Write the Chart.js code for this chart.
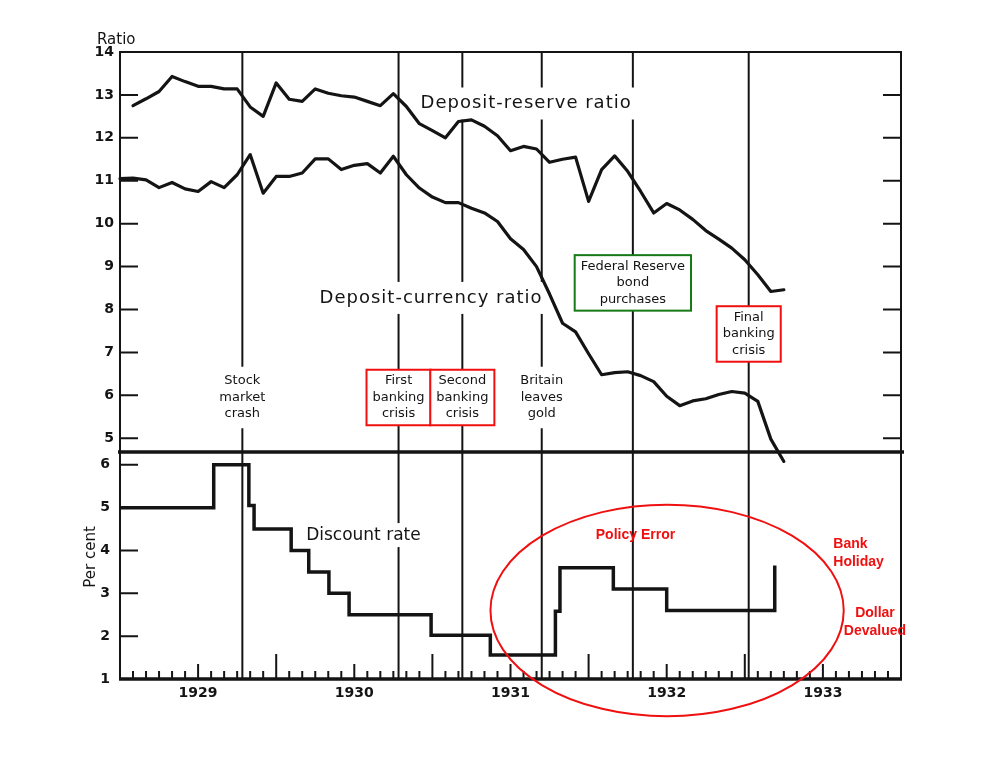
<!DOCTYPE html>
<html>
<head>
<meta charset="utf-8">
<title>Deposit ratios and discount rate, 1929-33</title>
<script src="https://cdn.jsdelivr.net/npm/chart.js@4.4.1/dist/chart.umd.min.js"></script>
<style>
  html, body { margin: 0; padding: 0; background: #fff; }
  canvas { display: block; }
</style>
</head>
<body>
<canvas id="chart" width="991" height="764"></canvas>
<script>
// months counted from Jan 1929 = 0
const monthIndex = [0, 1, 2, 3, 4, 5, 6, 7, 8, 9, 10, 11, 12, 13, 14, 15, 16, 17, 18, 19, 20,
  21, 22, 23, 24, 25, 26, 27, 28, 29, 30, 31, 32, 33, 34, 35, 36, 37, 38, 39, 40,
  41, 42, 43, 44, 45, 46, 47, 48, 49, 50, 51];

const depositReserve = [null, 12.75, 12.91, 13.08, 13.43, 13.31, 13.2, 13.2, 13.14, 13.14, 12.72,
  12.5, 13.28, 12.9, 12.85, 13.14, 13.04, 12.98, 12.95, 12.85, 12.75,
  13.03, 12.73, 12.33, 12.17, 12.0, 12.38, 12.42, 12.27, 12.05, 11.7,
  11.8, 11.74, 11.43, 11.5, 11.55, 10.52, 11.26, 11.58, 11.22, 10.75,
  10.25, 10.47, 10.32, 10.1, 9.84, 9.64, 9.43, 9.16, 8.81, 8.42, 8.46];

const depositCurrency = [11.05, 11.06, 11.02, 10.84, 10.96, 10.81, 10.75, 10.98, 10.84, 11.14, 11.61,
  10.71, 11.1, 11.1, 11.18, 11.51, 11.51, 11.26, 11.36, 11.4, 11.18,
  11.57, 11.14, 10.83, 10.62, 10.49, 10.49, 10.36, 10.25, 10.05, 9.65,
  9.4, 9.0, 8.36, 7.68, 7.48, 6.97, 6.48, 6.53, 6.55, 6.46,
  6.32, 5.98, 5.76, 5.87, 5.92, 6.02, 6.09, 6.05, 5.86, 4.98, 4.46];

// discount rate: month where each level begins, and the level
const rateMonths = [0, 7.2, 9.9, 10.3, 13.15, 14.5, 16.05, 17.6, 23.9, 28.45, 33.45, 33.8, 37.9, 42.0, 50.3];
const rateValues = [5, 6, 5.05, 4.5, 4, 3.5, 3, 2.5, 2.02, 1.56, 2.58, 3.6, 3.1, 2.6, 3.65];

const yearMonths = [6, 18, 30, 42, 54];
const yearLabels = ['1929', '1930', '1931', '1932', '1933'];
const ratioTicks = [5, 6, 7, 8, 9, 10, 11, 12, 13, 14];
const rateTicks = [1, 2, 3, 4, 5, 6];

const eventMonths = [9.4, 21.4, 26.3, 32.4, 39.4, 48.3];
const eventLabels = [
  ['Stock', 'market', 'crash'],
  ['First', 'banking', 'crisis'],
  ['Second', 'banking', 'crisis'],
  ['Britain', 'leaves', 'gold'],
  ['Federal Reserve', 'bond', 'purchases'],
  ['Final', 'banking', 'crisis']
];

const ink = '#141414';
const red = '#f01010';
const green = '#167a16';
const font = '"DejaVu Sans", sans-serif';

// where the annotation texts sit, in axis units
const eventLabelRatio = [5.95, 5.95, 5.95, 5.95, 8.62, 7.43];
const eventBox = [null, red, red, null, green, red];

function drawLabel(ctx, lines, cx, cy, size, lineH, boxColor, padX, padY) {
  ctx.font = size + 'px ' + font;
  const w = Math.max(...lines.map(t => ctx.measureText(t).width));
  const h = lines.length * lineH;
  const x0 = cx - w / 2 - padX, y0 = cy - h / 2 - padY;
  ctx.fillStyle = '#fff';
  ctx.fillRect(x0, y0, w + padX * 2, h + padY * 2);
  if (boxColor) {
    ctx.strokeStyle = boxColor;
    ctx.lineWidth = 2;
    ctx.strokeRect(x0, y0, w + padX * 2, h + padY * 2);
  }
  ctx.fillStyle = ink;
  ctx.textAlign = 'center';
  ctx.textBaseline = 'middle';
  lines.forEach((t, i) => ctx.fillText(t, cx, cy - h / 2 + lineH * (i + 0.5)));
}

const decor = {
  id: 'decor',
  beforeDatasetsDraw(chart) {
    const { ctx, chartArea: a, scales: { x, yRatio, yRate } } = chart;
    ctx.save();
    ctx.strokeStyle = ink;
    ctx.lineWidth = 2;
    eventMonths.forEach(m => {
      const px = x.getPixelForValue(m);
      ctx.beginPath();
      ctx.moveTo(px, a.top);
      ctx.lineTo(px, a.bottom);
      ctx.stroke();
    });

    eventLabels.forEach((lines, i) => {
      const boxed = !!eventBox[i];
      drawLabel(ctx, lines, x.getPixelForValue(eventMonths[i]), yRatio.getPixelForValue(eventLabelRatio[i]),
        13, 16.5, eventBox[i], boxed ? 6 : 4, boxed ? 3 : 6);
    });

    ctx.letterSpacing = '1px';
    drawLabel(ctx, ['Deposit-reserve ratio'], x.getPixelForValue(31.2), yRatio.getPixelForValue(12.8), 18, 20, null, 4, 6);
    drawLabel(ctx, ['Deposit-currency ratio'], x.getPixelForValue(23.9), yRatio.getPixelForValue(8.27), 18, 20, null, 4, 6);
    ctx.letterSpacing = '0px';
    drawLabel(ctx, ['Discount rate'], x.getPixelForValue(18.7), yRate.getPixelForValue(4.36), 17, 20, null, 2, 2);
    ctx.restore();
  },
  afterDatasetsDraw(chart) {
    const { ctx, chartArea: a, scales: { x, yRatio, yRate } } = chart;
    ctx.save();
    ctx.strokeStyle = ink;
    ctx.lineWidth = 2;
    ctx.strokeRect(a.left, a.top, a.right - a.left, a.bottom - a.top);

    // y ticks point into the plot
    ctx.beginPath();
    ratioTicks.forEach(v => {
      const py = yRatio.getPixelForValue(v);
      ctx.moveTo(a.left, py); ctx.lineTo(a.left + 18, py);
      ctx.moveTo(a.right - 18, py); ctx.lineTo(a.right, py);
    });
    rateTicks.forEach(v => {
      const py = yRate.getPixelForValue(v);
      ctx.moveTo(a.left, py); ctx.lineTo(a.left + 18, py);
    });
    // monthly ticks along the bottom
    for (let m = 1; m < 60; m++) {
      const px = x.getPixelForValue(m);
      const len = m % 12 === 0 ? 25 : (m % 12 === 6 ? 15 : 8);
      ctx.moveTo(px, a.bottom); ctx.lineTo(px, a.bottom - len);
    }
    ctx.stroke();

    // heavy rule between the two panels, and a heavier base line
    ctx.lineWidth = 3.5;
    ctx.beginPath();
    ctx.moveTo(a.left - 2, yRatio.bottom);
    ctx.lineTo(a.right + 3, yRatio.bottom);
    ctx.moveTo(a.left - 1, a.bottom);
    ctx.lineTo(a.right + 1, a.bottom);
    ctx.stroke();

    ctx.fillStyle = ink;
    ctx.font = '15px ' + font;
    ctx.textAlign = 'left';
    ctx.textBaseline = 'alphabetic';
    ctx.fillText('Ratio', 97, 44);
    ctx.save();
    ctx.translate(95, yRate.getPixelForValue(3.85));
    ctx.rotate(-Math.PI / 2);
    ctx.textAlign = 'center';
    ctx.textBaseline = 'alphabetic';
    ctx.fillText('Per cent', 0, 0);
    ctx.restore();

    // red annotations
    const cx = x.getPixelForValue(42.03), cy = yRate.getPixelForValue(2.6);
    const rx = x.getPixelForValue(42.03 + 13.57) - cx;
    const ry = cy - yRate.getPixelForValue(2.6 + 2.47);
    ctx.strokeStyle = red;
    ctx.lineWidth = 2;
    ctx.beginPath();
    ctx.ellipse(cx, cy, rx, ry, 0, 0, Math.PI * 2);
    ctx.stroke();

    ctx.fillStyle = red;
    ctx.font = 'bold 14px "Liberation Sans", Arial, sans-serif';
    ctx.textBaseline = 'middle';
    ctx.textAlign = 'center';
    ctx.fillText('Policy Error', x.getPixelForValue(39.6), yRate.getPixelForValue(4.36));
    ctx.textAlign = 'left';
    ctx.fillText('Bank', x.getPixelForValue(54.8), yRate.getPixelForValue(4.15));
    ctx.fillText('Holiday', x.getPixelForValue(54.8), yRate.getPixelForValue(3.74));
    ctx.textAlign = 'center';
    ctx.fillText('Dollar', x.getPixelForValue(58.0), yRate.getPixelForValue(2.54));
    ctx.fillText('Devalued', x.getPixelForValue(58.0), yRate.getPixelForValue(2.12));
    ctx.restore();
  }
};

const tickFont = { family: font, size: 14, weight: 'bold' };

function fixWidth(scale) {
  scale.width = 120;
  scale.paddingTop = 0;
  scale.paddingBottom = 0;
}

new Chart(document.getElementById('chart'), {
  type: 'line',
  data: {
    datasets: [
      {
        label: 'Deposit-reserve ratio',
        data: monthIndex.map((m, i) => ({ x: m, y: depositReserve[i] })),
        yAxisID: 'yRatio',
        borderColor: ink, borderWidth: 3.2, pointRadius: 0, tension: 0,
        borderJoinStyle: 'round', borderCapStyle: 'round'
      },
      {
        label: 'Deposit-currency ratio',
        data: monthIndex.map((m, i) => ({ x: m, y: depositCurrency[i] })),
        yAxisID: 'yRatio',
        clip: false, // the last month dips below the panel rule
        borderColor: ink, borderWidth: 3.2, pointRadius: 0, tension: 0,
        borderJoinStyle: 'round', borderCapStyle: 'round'
      },
      {
        label: 'Discount rate',
        data: rateMonths.map((m, i) => ({ x: m, y: rateValues[i] })),
        yAxisID: 'yRate',
        stepped: 'before',
        borderColor: ink, borderWidth: 3.5, pointRadius: 0,
        borderJoinStyle: 'miter', borderCapStyle: 'butt'
      }
    ]
  },
  options: {
    responsive: false,
    animation: false,
    events: [],
    layout: { padding: { top: 52, right: 90, bottom: 55, left: 0 } },
    plugins: { legend: { display: false }, tooltip: { enabled: false } },
    scales: {
      x: {
        type: 'linear', min: 0, max: 60,
        grid: { display: false, drawTicks: false },
        border: { display: false },
        afterBuildTicks: s => { s.ticks = yearMonths.map(v => ({ value: v })); },
        afterFit: s => { s.height = 30; s.paddingLeft = 0; s.paddingRight = 0; },
        ticks: {
          autoSkip: false, maxRotation: 0, padding: 6, color: ink, font: tickFont,
          callback: v => yearLabels[yearMonths.indexOf(v)]
        }
      },
      // the later stacked axis is placed on top, so the rate panel comes first
      yRate: {
        type: 'linear', position: 'left', stack: 'panels', stackWeight: 227,
        min: 1, max: 6.3,
        grid: { display: false, drawTicks: false },
        border: { display: false },
        afterBuildTicks: s => { s.ticks = rateTicks.map(v => ({ value: v })); },
        afterFit: fixWidth,
        ticks: { padding: 10, color: ink, font: tickFont }
      },
      yRatio: {
        type: 'linear', position: 'left', stack: 'panels', stackWeight: 400,
        min: 4.68, max: 14,
        grid: { display: false, drawTicks: false },
        border: { display: false },
        afterBuildTicks: s => { s.ticks = ratioTicks.map(v => ({ value: v })); },
        afterFit: fixWidth,
        ticks: { padding: 6, color: ink, font: tickFont }
      }
    }
  },
  plugins: [decor]
});
</script>
</body>
</html>
